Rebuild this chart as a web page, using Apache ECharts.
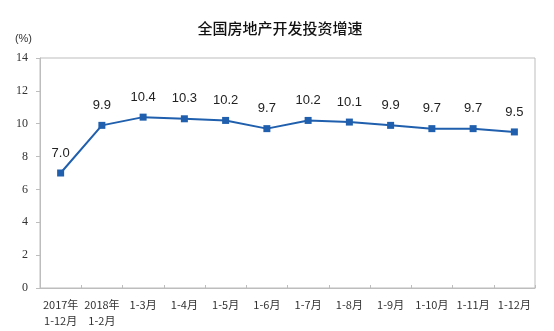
<!DOCTYPE html>
<html><head><meta charset="utf-8">
<script src="https://cdn.jsdelivr.net/npm/echarts@6/dist/echarts.min.js"></script>
<style>html,body{margin:0;padding:0;background:#fff}#c{width:554px;height:331px}</style>
</head><body><div id="c"></div>
<script>
const categories = ['2017年\n1-12月','2018年\n1-2月','1-3月','1-4月','1-5月','1-6月','1-7月','1-8月','1-9月','1-10月','1-11月','1-12月'];
const growth = [7.0, 9.9, 10.4, 10.3, 10.2, 9.7, 10.2, 10.1, 9.9, 9.7, 9.7, 9.5];
const yTicks = [0, 2, 4, 6, 8, 10, 12, 14];
const title = '全国房地产开发投资增速';
const unit = '(%)';

const chart = echarts.init(document.getElementById('c'));
chart.setOption({
  backgroundColor: '#fff',
  animation: false,
  title: {
    text: title, left: 275, top: 16, textAlign: 'center',
    textStyle: {fontSize: 15, fontWeight: 500, color: '#111', fontFamily: 'Noto Sans CJK SC'}
  },
  grid: {left: 40, right: 19, top: 58, bottom: 43, show: true, borderColor: '#bdbdbd', borderWidth: 1},
  xAxis: {
    type: 'category', data: categories, boundaryGap: true,
    axisLine: {lineStyle: {color: '#bdbdbd'}},
    axisTick: {show: true, inside: true, length: 3, lineStyle: {color: '#bdbdbd'}},
    axisLabel: {color: '#333', fontSize: 11, fontFamily: 'Noto Sans CJK SC', lineHeight: 16, margin: 9, align: 'center', interval: 0}
  },
  yAxis: {
    type: 'value', min: yTicks[0], max: yTicks[yTicks.length - 1], interval: 2,
    name: unit, nameLocation: 'end', nameGap: 14,
    nameTextStyle: {color: '#333', fontSize: 11, align: 'right', padding: [0, 8, 0, 0]},
    axisLine: {show: true, lineStyle: {color: '#bdbdbd'}},
    axisTick: {show: true, length: 4, lineStyle: {color: '#bdbdbd'}},
    splitLine: {show: false},
    axisLabel: {color: '#333', fontSize: 12, fontFamily: 'Liberation Serif', margin: 12}
  },
  series: [{
    type: 'line', data: growth,
    symbol: 'rect', symbolSize: 7,
    itemStyle: {color: '#1f5fad'},
    lineStyle: {color: '#1f5fad', width: 2},
    label: {show: true, position: 'top', distance: 10, color: '#222', fontSize: 13, fontFamily: 'Liberation Sans',
      formatter: p => p.value.toFixed(1)}
  }]
});
</script></body></html>
